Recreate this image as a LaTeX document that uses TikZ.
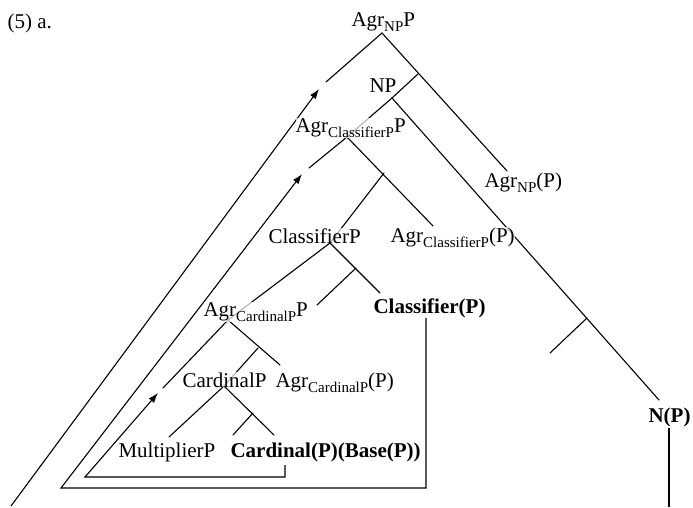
\documentclass[tikz,border=0pt]{standalone}
\usepackage{fontspec}
\setmainfont{Liberation Serif}
\usetikzlibrary{arrows.meta}
\newcommand{\sbx}[1]{\raisebox{-0.28em}{\fontsize{15}{15}\selectfont #1}}
\begin{document}
\begin{tikzpicture}[x=1pt,y=-1pt,line width=1.1pt,
  lbl/.style={font=\fontsize{21}{25}\selectfont,inner sep=0pt,anchor=base west,
              fill=white,fill opacity=0.7,text opacity=1},
  blbl/.style={lbl,font=\fontsize{21}{25}\selectfont\bfseries},
  mv/.style={-{Latex[length=10pt,width=7pt]}},
  tr/.style={line cap=round}]
\useasboundingbox (0,0) rectangle (693,507);
% tree points
\coordinate (A0) at (382,33);
\coordinate (L0) at (326,82);
\coordinate (J1) at (418,74);
\coordinate (R0) at (507,171);
\coordinate (N0) at (392,98);
\coordinate (NE) at (659,400);
\coordinate (J5) at (587,318);
\coordinate (J5e) at (550,353);
\coordinate (A1) at (347,137);
\coordinate (L1) at (309,168);
\coordinate (J2) at (384,173);
\coordinate (R1) at (433,226);
\coordinate (C1) at (330,243);
\coordinate (J3) at (356,268);
\coordinate (R2) at (380,293);
\coordinate (L2) at (317,305);
\coordinate (C2) at (228,320);
\coordinate (L3) at (163,388);
\coordinate (J4) at (258,348);
\coordinate (R3) at (280,365);
\coordinate (C3) at (224,386);
\coordinate (M) at (169,437);
\coordinate (J6) at (253,413);
\coordinate (R4) at (274,435);
\coordinate (L4) at (233,435);
% movement path points
\coordinate (T1s) at (11,506);
\coordinate (T1) at (319,89);
\coordinate (K1) at (426,318);
\coordinate (K2) at (426,488);
\coordinate (K3) at (61,488);
\coordinate (T2) at (302,174);
\coordinate (B1) at (285,465);
\coordinate (B2) at (285,477);
\coordinate (B3) at (85,477);
\coordinate (T3) at (158,393);
\coordinate (NV1) at (669,428);
\coordinate (NV2) at (669,507);
% tree branches
\draw[tr] (L0) -- (A0) -- (R0);
\draw[tr] (J1) -- (N0) -- (NE);
\draw[tr] (J5) -- (J5e);
\draw[tr] (N0) -- (A1) -- (L1);
\draw[tr] (A1) -- (R1);
\draw[tr] (J2) -- (C1) -- (C2);
\draw[tr] (C1) -- (R2);
\draw[tr] (J3) -- (L2);
\draw[tr] (C2) -- (L3);
\draw[tr] (C2) -- (R3);
\draw[tr] (J4) -- (C3) -- (M);
\draw[tr] (C3) -- (R4);
\draw[tr] (J6) -- (L4);
% movement arrows
\draw[mv] (T1s) -- (T1);
\draw[mv] (K1) -- (K2) -- (K3) -- (T2);
\draw[mv] (B1) -- (B2) -- (B3) -- (T3);
\draw[line width=1.8pt] (NV1) -- (NV2);
% labels
\node[lbl] (ex) at (7,28) {(5) a.};
\node[lbl] (agrnpp) at (351,26) {Agr\sbx{NP}P};
\node[lbl] (np) at (369,92) {NP};
\node[lbl] (agrclpp) at (295,132) {Agr\sbx{ClassifierP}P};
\node[lbl] (agrnp) at (484,187) {Agr\sbx{NP}(P)};
\node[lbl] (clp) at (268,243) {ClassifierP};
\node[lbl] (agrclp) at (390,242) {Agr\sbx{ClassifierP}(P)};
\node[blbl] (cl) at (373,313) {Classifier(P)};
\node[lbl] (agrcardpp) at (203,316) {Agr\sbx{CardinalP}P};
\node[lbl] (cardp) at (182,387) {CardinalP};
\node[lbl] (agrcardp) at (275,387) {Agr\sbx{CardinalP}(P)};
\node[blbl] (n) at (648,422) {N(P)};
\node[lbl] (mult) at (118,457) {MultiplierP};
\node[blbl] (card) at (230,457) {Cardinal(P)(Base(P))};
\end{tikzpicture}
\end{document}
